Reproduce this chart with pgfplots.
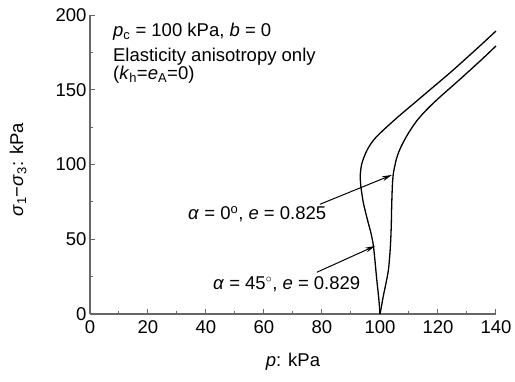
\documentclass[border=0pt]{standalone}
\usepackage{fontspec}
\setmainfont{Liberation Sans}
\usepackage{pgfplots}
\pgfplotsset{compat=1.18}
\usetikzlibrary{arrows.meta}
\begin{document}
\begin{tikzpicture}
\begin{axis}[
 at={(0,0)}, anchor=south west,
 scale only axis, width=406pt, height=299pt,
 xmin=0, xmax=140, ymin=0, ymax=200,
 axis lines*=left,
 axis line style={black!60, line width=1.2pt},
 xtick={0,20,...,140}, ytick={0,50,...,200},
 minor x tick num=1, minor y tick num=1,
 tick align=inside,
 major tick length=5pt, minor tick length=3pt,
 tick style={black!60, line width=1pt},
 font=\fontsize{18.5}{22}\selectfont,
 /pgf/number format/assume math mode=true,
 ticklabel style={font=\fontsize{18.5}{22}\selectfont},
 xticklabel style={yshift=-3pt},
 xlabel={\textit{p}: kPa},
 ylabel={\textit{σ}\textsubscript{1}−\textit{σ}\textsubscript{3}: kPa},
 xlabel style={at={(axis description cs:0.5,-0.16)}, anchor=center},
 ylabel style={at={(axis description cs:-0.177,0.482)}, anchor=center},
 clip=false,
]
% alpha = 45 deg, e = 0.829 (upper end)
\addplot[black, line width=1.3pt, smooth, tension=0.5] coordinates {
(100,0) (99.6,10) (98.9,22.7) (98.3,35) (97.7,46) (96.9,54) (96,60.6) (95.1,67.5)
(94.3,74) (93.7,81) (93.3,87.4) (93.2,93) (93.6,99.5) (94.4,104.5) (95.5,109.5)
(96.9,114) (98.6,118.2) (100.6,122) (103,126.3) (106,131.5) (109.5,137.3)
(113,143) (116.5,148.8) (120,154.5) (125,162.8) (130,171.5) (135,180.3) (140,189.3)
};
% alpha = 0 deg, e = 0.825 (lower end)
\addplot[black, line width=1.3pt, smooth, tension=0.5] coordinates {
(100,0) (100.5,5) (101.1,11.6) (102,20) (102.9,29.4) (103.4,40) (103.7,49.5) (103.9,60)
(104,70) (104.15,80) (104.3,87) (104.6,94) (105.1,99) (105.7,104) (106.6,109)
(107.8,114) (109.2,119) (110.8,124) (112.6,129) (114.8,134) (117.3,139)
(120.3,144.5) (123.5,150) (127,156) (131,163) (135.5,171) (140,179.3)
};
\draw[black, line width=1pt, -{Stealth[length=10pt,width=5pt]}] (axis cs:79.3,73.4) -- (axis cs:104.1,93);
\draw[black, line width=1pt, -{Stealth[length=10pt,width=5pt]}] (axis cs:78.2,27.9) -- (axis cs:98.3,45.5);
\node[anchor=base west, inner sep=0pt] at (axis cs:7.9,185.3) {\textit{p}\textsubscript{c} = 100 kPa, \textit{b} = 0};
\node[anchor=base west, inner sep=0pt] at (axis cs:7.9,169.2) {Elasticity anisotropy only};
\node[anchor=base west, inner sep=0pt] at (axis cs:7.9,156.9) {(\textit{k}\textsubscript{h}=\textit{e}\textsubscript{A}=0)};
\node[anchor=base west, inner sep=0pt] at (axis cs:33.8,62.9) {\textit{α} = 0\textsuperscript{o}, \textit{e} = 0.825};
\node[anchor=base west, inner sep=0pt] at (axis cs:42.4,16.7) {\textit{α} = 45$^{\circ}$, \textit{e} = 0.829};
\end{axis}
\pgfresetboundingbox
\path[use as bounding box] (-90pt,-67pt) rectangle (425pt,314pt);
\end{tikzpicture}
\end{document}
